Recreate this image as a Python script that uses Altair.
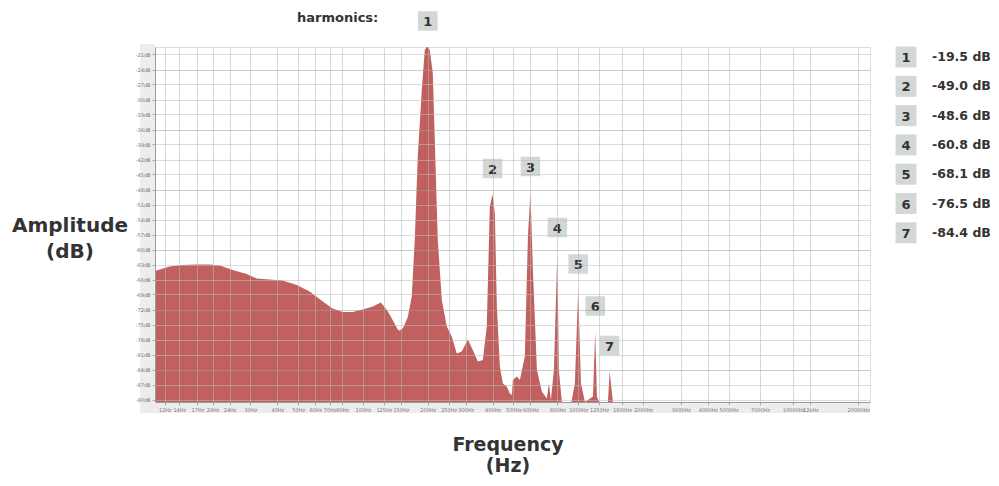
import altair as alt
import pandas as pd

# ---- spectrum ----
freq_hz = [10.8, 12.6, 14.5, 16.8, 19.4, 21.6, 24.8, 28.8, 32.0, 36.8, 42.3, 49.2, 56.5, 65.0,
           72.3, 80.5, 89.6, 99.7, 111, 121, 129, 133, 145, 148, 153, 161, 165, 168.5, 174,
           179.7, 187.6, 193.7, 197.9, 200, 204.3, 211, 215.6, 222.6, 232.4, 245.1, 258.6,
           272.7, 287.7, 307, 323.8, 341.6, 360.4, 376, 388.5, 400, 410, 418.8, 432.4, 446.6,
           466, 481, 492, 497, 519, 536, 565, 584, 600, 616, 643, 678, 715, 731, 747, 771,
           800, 813, 840, 930, 965, 1000, 1030, 1075, 1171, 1200, 1222, 1250, 1375, 1400,
           1450, 22700]
amp_db = [-64.3, -63.4, -63.1, -63.0, -63.0, -63.2, -64.1, -64.9, -65.8, -66.0, -66.2, -67.1,
          -68.4, -70.4, -71.8, -72.5, -72.5, -72.0, -71.4, -70.6, -72.1, -73.0, -76.0, -76.2,
          -75.8, -73.7, -71.5, -69.4, -58.1, -41.4, -28.1, -20.1, -19.5, -19.5, -20.1, -24.7,
          -38.1, -58.1, -70.1, -75.4, -77.4, -80.8, -80.4, -78.0, -80.1, -82.4, -82.1, -75.4,
          -51.4, -49.0, -52.8, -71.4, -83.4, -86.8, -87.4, -88.8, -89.1, -86.1, -85.4, -86.1,
          -81.4, -57.4, -48.6, -64.1, -84.1, -88.4, -89.8, -86.8, -90.1, -84.1, -60.8, -84.1,
          -90.5, -90.5, -86.8, -68.1, -86.8, -90.5, -89.4, -76.5, -89.4, -90.5, -90.5, -84.4,
          -90.5, -90.5]

# ---- harmonics ----
harm_n = [1, 2, 3, 4, 5, 6, 7]
harm_freq = [200, 400, 600, 800, 1000, 1200, 1400]
harm_db = [-19.5, -49.0, -48.6, -60.8, -68.1, -76.5, -84.4]
harm_text = ["-19.5 dB", "-49.0 dB", "-48.6 dB", "-60.8 dB", "-68.1 dB", "-76.5 dB", "-84.4 dB"]

# ---- axis ticks ----
x_ticks = [12, 14, 17, 20, 24, 30, 40, 50, 60, 70, 80, 100, 125, 150, 200, 250, 300, 400, 500,
           600, 800, 1000, 1250, 1600, 2000, 3000, 4000, 5000, 7000, 10000, 12000, 20000]
x_tick_labels = ["12Hz", "14Hz", "17Hz", "20Hz", "24Hz", "30Hz", "40Hz", "50Hz", "60Hz", "70Hz",
                 "80Hz", "100Hz", "125Hz", "150Hz", "200Hz", "250Hz", "300Hz", "400Hz", "500Hz",
                 "600Hz", "800Hz", "1000Hz", "1250Hz", "1600Hz", "2000Hz", "3000Hz", "4000Hz",
                 "5000Hz", "7000Hz", "10000Hz", "12kHz", "20000Hz"]
y_ticks = [-21, -24, -27, -30, -33, -36, -39, -42, -45, -48, -51, -54, -57, -60, -63, -66, -69,
           -72, -75, -78, -81, -84, -87, -90]

spec_df = pd.DataFrame({"freq": freq_hz, "db": amp_db})
harm_df = pd.DataFrame({"n": harm_n, "freq": harm_freq, "db": harm_db, "lbl": harm_text})

label_map = "{" + ",".join(f"'{v}':'{t}'" for v, t in zip(x_ticks, x_tick_labels)) + "}"

W, H = 715, 355
FONT = "DejaVu Sans"
xscale = alt.Scale(type="log", domain=[10.8, 22700], nice=False)
yscale = alt.Scale(domain=[-90.5, -19.5], nice=False, zero=False)

x_axis = alt.Axis(values=x_ticks, labelExpr=label_map + "[datum.value]", labelOverlap=False,
                  labelFontSize=5, labelColor="#777", labelFont=FONT, tickSize=3,
                  tickColor="#aaa", domainColor="#999", gridColor="#b8b8b8",
                  gridOpacity=0.55, zindex=1, labelPadding=2)
y_axis = alt.Axis(values=y_ticks, labelExpr="datum.value + 'dB'", labelOverlap=False,
                  labelFontSize=5, labelColor="#777", labelFont=FONT, tickSize=3,
                  tickColor="#aaa", domainColor="#999",
                  gridColor={"condition": {"test": "datum.value % 12 === 0", "value": "#a0a0a0"},
                             "value": "#bdbdbd"},
                  gridOpacity=0.55, zindex=1, labelPadding=2)

X = alt.X("freq:Q", scale=xscale, title=None, axis=x_axis)
Y = alt.Y("db:Q", scale=yscale, title=None, axis=y_axis)

one = alt.Data(values=[{}])

# light grey strips behind the axis labels
band_left = alt.Chart(one).mark_rect(color="#ededed").encode(
    x=alt.value(-15), x2=alt.value(0), y=alt.value(-3), y2=alt.value(H + 11))
band_bottom = alt.Chart(one).mark_rect(color="#ededed").encode(
    x=alt.value(-15), x2=alt.value(W), y=alt.value(H), y2=alt.value(H + 11))

area = alt.Chart(spec_df).mark_area(color="#c0605f", clip=True, interpolate="linear").encode(
    x=X, y=Y, y2=alt.datum(-90.5))

OFF = -26
peak_boxes = alt.Chart(harm_df).mark_square(size=380, color="#d3d7d7", opacity=1, yOffset=OFF).encode(
    x=X, y=Y)
peak_nums = alt.Chart(harm_df).mark_text(font=FONT, fontWeight="bold", fontSize=13, color="#333",
                                         yOffset=OFF + 1, baseline="middle").encode(
    x=X, y=Y, text="n:N")

# legend rows: stacked below each other, 29.3 px apart
legend = alt.Chart(harm_df).transform_calculate(py="10 + (datum.n - 1) * 29.3")
leg_boxes = legend.mark_square(size=440, color="#d3d7d7", opacity=1).encode(
    x=alt.value(751), y=alt.Y("py:Q", scale=None, axis=None))
leg_nums = legend.mark_text(font=FONT, fontWeight="bold", fontSize=13, color="#333",
                            baseline="middle", dy=1).encode(
    x=alt.value(751), y=alt.Y("py:Q", scale=None, axis=None), text="n:N")
leg_text = legend.mark_text(font=FONT, fontWeight="bold", fontSize=12.5, color="#333",
                            baseline="middle", align="left").encode(
    x=alt.value(777), y=alt.Y("py:Q", scale=None, axis=None), text="lbl:N")

harm_title = alt.Chart(one).mark_text(text="harmonics:", font=FONT, fontWeight="bold", fontSize=13,
                                      color="#333", align="left", baseline="middle").encode(
    x=alt.value(142), y=alt.value(-29))
y_title = alt.Chart(one).mark_text(text=["Amplitude", "(dB)"], font=FONT, fontWeight="bold",
                                   fontSize=20, color="#333", align="center", baseline="middle",
                                   lineHeight=26).encode(x=alt.value(-85), y=alt.value(179))
x_title = alt.Chart(one).mark_text(text=["Frequency", "(Hz)"], font=FONT, fontWeight="bold",
                                   fontSize=19, color="#333", align="center", baseline="middle",
                                   lineHeight=21).encode(x=alt.value(353), y=alt.value(398))

chart = alt.layer(band_left, band_bottom, area, peak_boxes, peak_nums, leg_boxes, leg_nums,
                  leg_text, harm_title, y_title, x_title).properties(
    width=W, height=H,
    autosize=alt.AutoSizeParams(type="none"),
    padding={"left": 147, "top": 39, "right": 120, "bottom": 76},
    background="white",
).configure_view(stroke="#dddddd")

chart.save("out.html", embed_options={"renderer": "svg", "actions": False})
